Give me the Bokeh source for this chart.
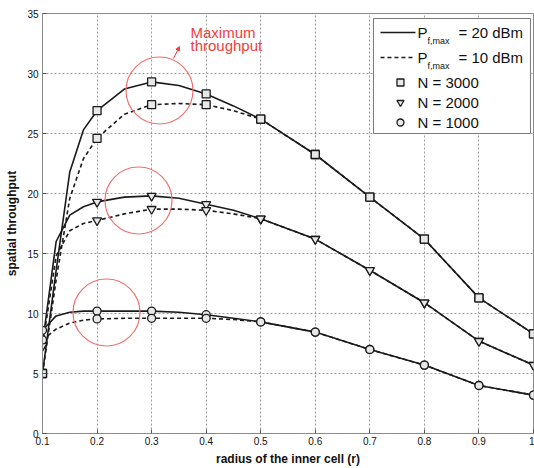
from bokeh.plotting import figure
from bokeh.models import FixedTicker, Range1d, Arrow, NormalHead
from bokeh.core.properties import value
from bokeh.embed import file_html
from bokeh.resources import INLINE

# ---------------- data ----------------
r_marks = [0.1, 0.2, 0.3, 0.4, 0.5, 0.6, 0.7, 0.8, 0.9, 1.0]
n3000_20 = [5.0, 26.9, 29.3, 28.3, 26.2, 23.25, 19.7, 16.2, 11.3, 8.3]
n3000_10 = [5.0, 24.6, 27.4, 27.4, 26.2, 23.25, 19.7, 16.2, 11.3, 8.3]
n2000_20 = [7.5, 19.3, 19.8, 19.1, 17.9, 16.2, 13.6, 10.9, 7.7, 5.7]
n2000_10 = [7.3, 17.75, 18.7, 18.6, 17.9, 16.2, 13.6, 10.9, 7.7, 5.7]
n1000_20 = [8.6, 10.2, 10.2, 9.9, 9.3, 8.45, 7.0, 5.7, 4.0, 3.2]
n1000_10 = [7.8, 9.55, 9.6, 9.6, 9.3, 8.45, 7.0, 5.7, 4.0, 3.2]

# curve points (denser near the left where the curves bend)
r_curve = [0.1, 0.125, 0.15, 0.175, 0.2, 0.25, 0.3, 0.35, 0.4, 0.45, 0.5, 0.6, 0.7, 0.8, 0.9, 1.0]
c3000_20 = [5.0, 13.6, 21.8, 25.3, 26.9, 28.7, 29.3, 29.0, 28.3, 27.3, 26.2, 23.25, 19.7, 16.2, 11.3, 8.3]
c3000_10 = [5.0, 12.8, 19.6, 22.9, 24.6, 26.6, 27.4, 27.5, 27.4, 26.9, 26.2, 23.25, 19.7, 16.2, 11.3, 8.3]
c2000_20 = [7.5, 16.0, 18.2, 18.9, 19.3, 19.7, 19.8, 19.6, 19.1, 18.6, 17.9, 16.2, 13.6, 10.9, 7.7, 5.7]
c2000_10 = [7.3, 14.8, 16.9, 17.5, 17.75, 18.3, 18.7, 18.7, 18.6, 18.3, 17.9, 16.2, 13.6, 10.9, 7.7, 5.7]
c1000_20 = [8.6, 9.8, 10.1, 10.2, 10.2, 10.2, 10.2, 10.1, 9.9, 9.6, 9.3, 8.45, 7.0, 5.7, 4.0, 3.2]
c1000_10 = [7.8, 8.7, 9.2, 9.45, 9.55, 9.6, 9.6, 9.6, 9.6, 9.5, 9.3, 8.45, 7.0, 5.7, 4.0, 3.2]

x_ticks = [0.1, 0.2, 0.3, 0.4, 0.5, 0.6, 0.7, 0.8, 0.9, 1.0]
y_ticks = [0, 5, 10, 15, 20, 25, 30, 35]

legend_lines = ["= 20 dBm", "= 10 dBm"]
legend_marks = ["N = 3000", "N = 2000", "N = 1000"]

FONT = "Liberation Sans"


# helpers: convert reference-picture pixel positions of decorations to data units
def dx(px):
    return 0.1 + (px - 42) / 545.6


def dy(py):
    return (433 - py) / 12.0


p = figure(width=534, height=468, output_backend="svg", toolbar_location=None,
           x_range=Range1d(0.1, 1.0), y_range=Range1d(0, 35),
           min_border_left=42, min_border_right=1, min_border_top=13, min_border_bottom=35)

p.background_fill_color = "white"
p.border_fill_color = "white"
p.outline_line_color = "#8a8a8a"
p.outline_line_width = 1

p.xaxis.ticker = FixedTicker(ticks=x_ticks)
p.yaxis.ticker = FixedTicker(ticks=y_ticks)
p.xaxis.major_label_overrides = {1.0: "1", 1: "1"}
p.xaxis.axis_label = "radius of the inner cell (r)"
p.yaxis.axis_label = "spatial throughput"
for ax in (p.xaxis, p.yaxis):
    ax.axis_line_color = "#8a8a8a"
    ax.major_tick_line_color = "#555555"
    ax.major_tick_in = 4
    ax.major_tick_out = 0
    ax.minor_tick_line_color = None
    ax.major_label_text_font = FONT
    ax.major_label_text_font_size = "10px"
    ax.major_label_text_color = "#111111"
    ax.axis_label_text_font = FONT
    ax.axis_label_text_font_size = "12px"
    ax.axis_label_text_font_style = "bold"
    ax.axis_label_text_color = "#111111"
p.xaxis.major_label_standoff = 3
p.xaxis.axis_label_standoff = 4
p.yaxis.major_label_standoff = 4
p.yaxis.axis_label_standoff = 5

for g in (p.xgrid, p.ygrid):
    g.grid_line_color = "#9a9a9a"
    g.grid_line_dash = "2 2"
    g.grid_line_width = 1
p.xgrid.ticker = FixedTicker(ticks=x_ticks)
p.ygrid.ticker = FixedTicker(ticks=y_ticks)

LC = "#1a1a1a"
curves = [(c3000_20, "solid"), (c3000_10, "4 3"), (c2000_20, "solid"), (c2000_10, "4 3"),
          (c1000_20, "solid"), (c1000_10, "4 3")]
for ys, dash in curves:
    p.line(r_curve, ys, line_color=LC, line_width=1.6, line_dash=dash)

marks = [(n3000_20, "square", 8), (n3000_10, "square", 8), (n2000_20, "inverted_triangle", 9),
         (n2000_10, "inverted_triangle", 9), (n1000_20, "circle", 8), (n1000_10, "circle", 8)]
for ys, m, s in marks:
    p.scatter(r_marks, ys, marker=m, size=s, fill_color="#e8e8e8", line_color=LC, line_width=1.3)

# red highlight circles
RED = "#f04040"
p.scatter([dx(159), dx(138), dx(106)], [dy(90), dy(200), dy(312)], marker="circle",
          size=67, fill_color=None, line_color="#f07070", line_width=1.2)

# annotation
p.text([dx(190)], [dy(32)], text=["Maximum"], text_font=value(FONT), text_font_size="15px",
       text_color=RED, text_baseline="alphabetic", text_align="left")
p.text([dx(190)], [dy(45)], text=["throughput"], text_font=value(FONT), text_font_size="15px",
       text_color=RED, text_baseline="alphabetic", text_align="left")
p.add_layout(Arrow(end=NormalHead(size=4, fill_color=RED, line_color=RED),
                   x_start=dx(173), y_start=dy(58), x_end=dx(179), y_end=dy(46),
                   line_color=RED, line_width=1))

# custom legend
p.quad(left=[dx(373)], right=[dx(530)], top=[dy(18)], bottom=[dy(133)],
       fill_color="white", line_color="#7a7a7a", line_width=1)
rows_line = [32, 57]
for (lab, dash), ry in zip(zip(legend_lines, ["solid", "4 3"]), rows_line):
    p.line([dx(380), dx(415)], [dy(ry), dy(ry)], line_color=LC, line_width=1.6, line_dash=dash)
    p.text([dx(417)], [dy(ry)], text=["P"], text_font=value(FONT), text_font_size="15px",
           text_color="#111111", text_baseline="middle")
    p.text([dx(427)], [dy(ry + 8)], text=["f,max"], text_font=value(FONT), text_font_size="9px",
           text_color="#111111", text_baseline="middle")
    p.text([dx(458)], [dy(ry)], text=[lab], text_font=value(FONT), text_font_size="15px",
           text_color="#111111", text_baseline="middle")
rows_mark = [82, 102, 122]
for lab, m, ry in zip(legend_marks, ["square", "inverted_triangle", "circle"], rows_mark):
    p.scatter([dx(400)], [dy(ry)], marker=m, size=7, fill_color="#e8e8e8", line_color=LC, line_width=1.3)
    p.text([dx(417)], [dy(ry)], text=[lab], text_font=value(FONT), text_font_size="15px",
           text_color="#111111", text_baseline="middle")

open("out.html", "w").write(file_html(p, INLINE))
